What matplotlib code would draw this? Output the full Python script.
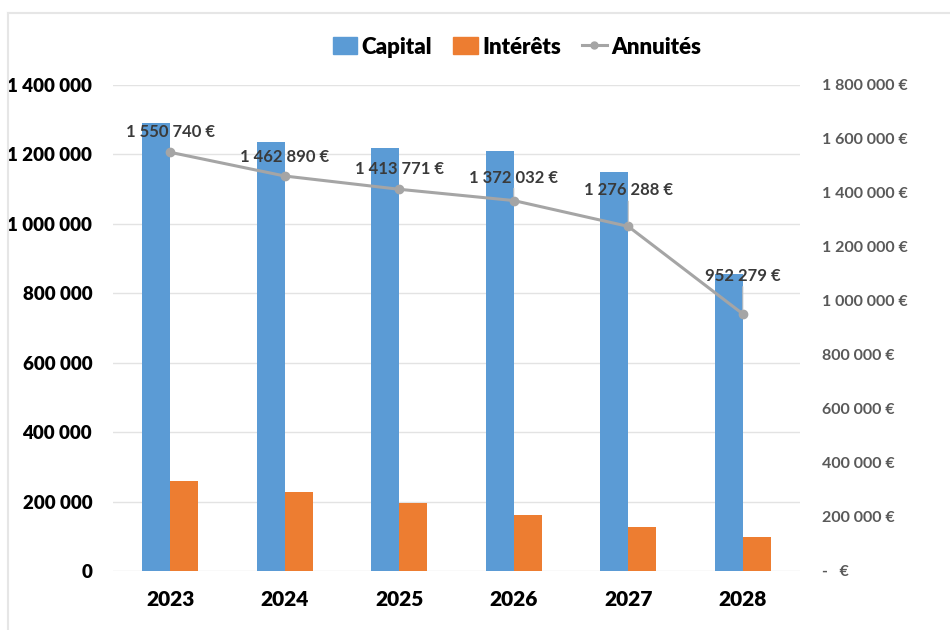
import matplotlib
matplotlib.use("Agg")
import matplotlib.pyplot as plt
from matplotlib.lines import Line2D
from matplotlib.ticker import FuncFormatter
import numpy as np

years = ["2023", "2024", "2025", "2026", "2027", "2028"]
capital = [1290000, 1235000, 1218000, 1211000, 1148000, 856000]
interets = [260000, 229000, 195000, 162000, 128000, 97000]
annuites = [1550740, 1462890, 1413771, 1372032, 1276288, 952279]
annuite_labels = ["1 550 740 €", "1 462 890 €", "1 413 771 €",
                  "1 372 032 €", "1 276 288 €", "952 279 €"]
label_offsets = [20, 19, 20, 23, 36, 38]  # vertical offset of each label, px

BLUE = "#5B9BD5"
ORANGE = "#ED7D31"
GREY = "#A5A5A5"

plt.rcParams["font.family"] = ["Lato", "DejaVu Sans"]

fig = plt.figure(figsize=(9.5, 6.3), dpi=100)
ax = fig.add_axes([113 / 950, 1 - 571 / 630, 687 / 950, 486 / 630])
ax2 = ax.twinx()

x = np.arange(len(years))
w = 0.245
ax.bar(x - w / 2, capital, width=w, color=BLUE, zorder=2, label="Capital")
ax.bar(x + w / 2, interets, width=w, color=ORANGE, zorder=2, label="Intérêts")

ax.set_xlim(-0.5, len(years) - 0.5)
ax.set_ylim(0, 1400000)
ax.set_yticks(np.arange(0, 1400001, 200000))


def sp(v):
    return f"{int(v):,}".replace(",", " ")


ax.yaxis.set_major_formatter(FuncFormatter(lambda v, p: sp(v)))
ax.grid(axis="y", color="#E3E3E3", linewidth=1, zorder=0)
ax.set_axisbelow(True)
for s in ax.spines.values():
    s.set_visible(False)
for s in ax2.spines.values():
    s.set_visible(False)
ax.tick_params(axis="y", length=0, pad=15, labelsize=13.5, labelcolor="black")
for t in ax.get_yticklabels():
    t.set_fontweight("heavy")
ax.set_xticks(x)
ax.set_xticklabels(years, fontsize=15, fontweight="heavy")
ax.tick_params(axis="x", length=0, pad=14)

ax2.plot(x, annuites, color=GREY, linewidth=2.2, marker="o", markersize=6,
         zorder=3, label="Annuités")
ax2.set_ylim(0, 1800000)
ax2.set_yticks(np.arange(0, 1800001, 200000))
ax2.yaxis.set_major_formatter(
    FuncFormatter(lambda v, p: "-   €" if v == 0 else f"{sp(v)} €"))
ax2.tick_params(axis="y", length=0, pad=16, labelsize=11.5, labelcolor="#595959")
for t in ax2.get_yticklabels():
    t.set_fontweight("bold")

for xi, yi, lab, off in zip(x, annuites, annuite_labels, label_offsets):
    arrow = None
    if off > 21:
        arrow = dict(arrowstyle="-", color="#BFBFBF", lw=0.8,
                     shrinkA=0, shrinkB=3)
    ax2.annotate(lab, (xi, yi), xytext=(0, off), textcoords="offset pixels",
                 ha="center", va="center", fontsize=12, fontweight="bold",
                 color="#3A3A3A", zorder=4, arrowprops=arrow)

handles = [
    plt.Rectangle((0, 0), 1, 1, color=BLUE),
    plt.Rectangle((0, 0), 1, 1, color=ORANGE),
    Line2D([0], [0], color=GREY, linewidth=2.2, marker="o", markersize=5),
]
fig.legend(handles, ["Capital", "Intérêts", "Annuités"], loc="center",
           bbox_to_anchor=(517 / 950, 1 - 47 / 630), ncol=3, frameon=False,
           prop={"size": 16, "weight": "heavy"}, handlelength=1.1,
           handleheight=0.8, handletextpad=0.2, columnspacing=0.95)

# light frame around the chart area
fig.add_artist(Line2D([8 / 950, 1], [1 - 13 / 630, 1 - 13 / 630],
                      color="#E6E6E6", linewidth=1.5, transform=fig.transFigure))
fig.add_artist(Line2D([8 / 950, 8 / 950], [0, 1 - 13 / 630],
                      color="#E6E6E6", linewidth=1.5, transform=fig.transFigure))

fig.savefig("out.png", dpi=100, facecolor="white")
